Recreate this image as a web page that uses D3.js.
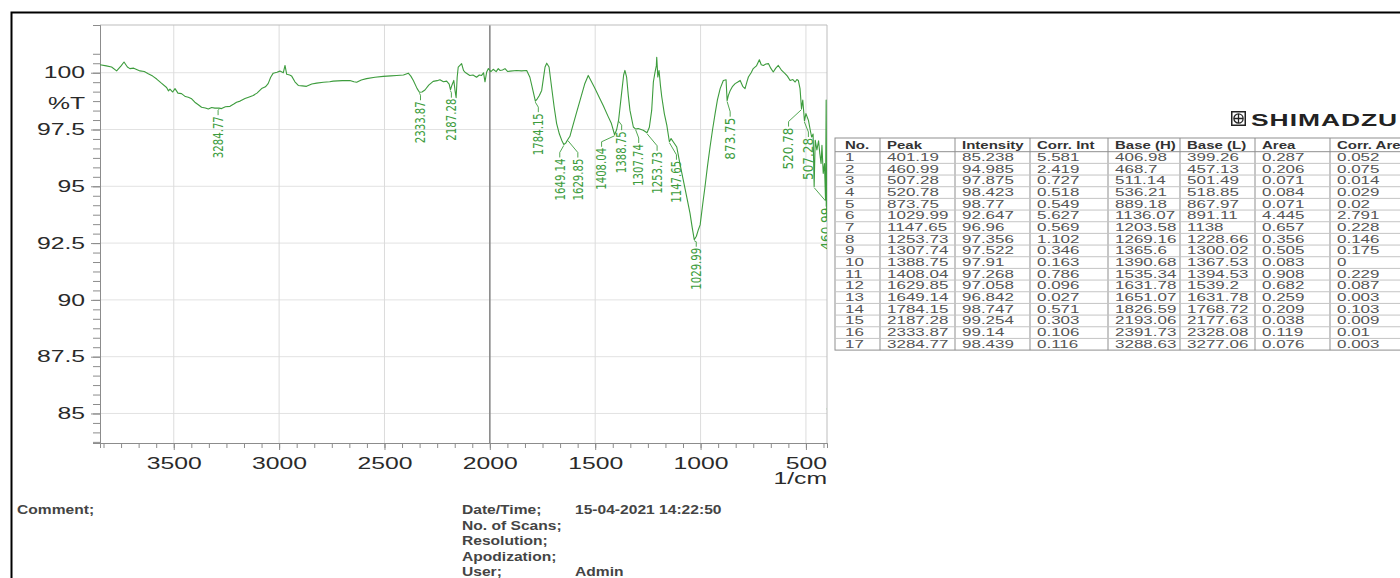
<!DOCTYPE html>
<html>
<head>
<meta charset="utf-8">
<script src="https://cdn.jsdelivr.net/npm/d3@7"></script>
<style>
body { margin: 0; background: #fff; }
svg { display: block; font-family: "Liberation Sans", Arial, sans-serif; }
</style>
</head>
<body>
<div id="chart"></div>
<script>
//Spectrum: [wavenumber 1/cm, %T]
const spectrum = [
  [3850,100.35],[3820,100.3],[3795,100.25],[3771,100.08],[3750,100.3],[3736,100.47],[3720,100.25],[3708,100.18],
  [3690,100.2],[3660,100.08],[3640,100.05],[3621,99.95],[3600,99.85],[3581,99.72],[3560,99.55],[3534,99.35],
  [3525,99.2],[3518,99.28],[3505,99.15],[3494,99.3],[3480,99.1],[3463,99.08],[3445,98.95],[3431,98.92],
  [3415,98.85],[3400,98.7],[3385,98.6],[3368,98.48],[3350,98.45],[3336,98.4],[3320,98.47],[3305,98.44],
  [3285,98.44],[3273,98.42],[3255,98.5],[3233,98.52],[3215,98.62],[3202,98.7],[3185,98.75],[3162,98.86],
  [3145,98.92],[3123,99.0],[3105,99.1],[3083,99.3],[3065,99.38],[3052,99.52],[3040,99.8],[3028,99.98],
  [3010,100.02],[2996,100.07],[2980,100.0],[2972,100.32],[2964,99.93],[2950,99.9],[2941,99.86],[2925,99.6],
  [2909,99.44],[2890,99.42],[2870,99.4],[2845,99.5],[2822,99.54],[2790,99.58],[2760,99.6],[2743,99.63],
  [2700,99.65],[2664,99.66],[2645,99.6],[2632,99.58],[2610,99.68],[2585,99.74],[2545,99.8],[2506,99.84],
  [2470,99.86],[2442,99.88],[2410,99.9],[2387,99.98],[2375,99.85],[2363,99.66],[2345,99.3],[2334,99.14],
  [2322,99.15],[2308,99.24],[2290,99.45],[2269,99.62],[2250,99.65],[2237,99.69],[2220,99.6],[2205,99.63],
  [2193,99.5],[2187,99.25],[2180,99.45],[2171,99.66],[2165,99.2],[2160,98.9],[2155,99.8],[2150,100.25],
  [2134,100.4],[2125,100.1],[2118,100.02],[2095,99.88],[2080,99.9],[2063,99.8],[2050,99.9],[2039,99.88],
  [2030,100.0],[2023,99.6],[2015,100.03],[2007,100.18],[1995,100.05],[1984,100.15],[1970,100.05],[1960,100.18],
  [1952,100.1],[1940,100.12],[1928,100.18],[1915,100.05],[1904,100.07],[1873,100.1],[1850,100.08],[1825,100.1],
  [1810,99.8],[1795,99.2],[1784,98.75],[1775,98.85],[1765,99.0],[1754,99.22],[1746,99.74],[1738,100.25],
  [1730,100.42],[1719,100.25],[1707,99.37],[1695,98.5],[1683,97.76],[1670,97.3],[1659,97.03],[1649,96.84],
  [1640,96.9],[1630,97.06],[1620,97.2],[1612,97.47],[1590,98.2],[1572,98.78],[1550,99.5],[1533,99.88],
  [1520,99.65],[1501,99.3],[1480,98.9],[1462,98.56],[1440,98.1],[1423,97.76],[1408,97.27],[1398,97.5],
  [1389,97.91],[1375,99.08],[1365,99.9],[1359,100.1],[1351,99.81],[1343,99.0],[1335,98.34],[1319,97.61],
  [1308,97.52],[1296,97.54],[1272,97.47],[1254,97.36],[1243,97.6],[1232,98.34],[1224,99.59],[1216,100.03],
  [1210,100.3],[1208,100.68],[1205,100.2],[1203,99.81],[1197,100.1],[1190,99.4],[1184,98.93],[1172,98.2],
  [1160,97.68],[1148,96.96],[1140,97.1],[1129,96.95],[1113,96.73],[1098,96.0],[1082,95.27],[1065,94.5],
  [1050,93.81],[1040,93.2],[1030,92.65],[1020,92.8],[1010,93.1],[1002,93.3],[990,94.2],[979,94.98],
  [967,95.9],[955,96.73],[943,97.5],[931,98.2],[920,98.8],[907,99.3],[892,99.66],[879,99.69],
  [874,98.77],[868,99.0],[859,99.22],[848,99.4],[836,99.52],[825,99.58],[812,99.66],[800,99.4],
  [789,99.3],[780,99.6],[773,99.81],[760,100.0],[750,100.18],[735,100.3],[721,100.57],[712,100.35],
  [702,100.32],[690,100.38],[678,100.4],[667,100.2],[655,100.03],[643,100.2],[631,100.32],[615,100.1],
  [599,99.96],[588,99.85],[575,99.66],[562,99.7],[551,99.59],[543,99.7],[536,99.66],[528,99.3],
  [521,98.42],[515,98.8],[507,97.88],[500,98.2],[488,97.9],[480,97.5],[473,97.17],[466,97.3],
  [461,94.99],[456,97.03],[448,96.6],[440,97.0],[434,96.44],[428,96.0],[424,96.8],[418,95.57],
  [412,96.0],[407,94.4],[404,98.8],[402,94.5],[401,93.6]
];

const xTicks = [3500, 3000, 2500, 2000, 1500, 1000, 500];
const yTicks = [85, 87.5, 90, 92.5, 95, 97.5, 100];

//Peak table
const tableHeader = ["No.", "Peak", "Intensity", "Corr. Int", "Base (H)", "Base (L)", "Area", "Corr. Area"];
const peakNo = [1, 2, 3, 4, 5, 6, 7, 8, 9, 10, 11, 12, 13, 14, 15, 16, 17];
const peakWn = [401.19, 460.99, 507.28, 520.78, 873.75, 1029.99, 1147.65, 1253.73, 1307.74, 1388.75, 1408.04, 1629.85, 1649.14, 1784.15, 2187.28, 2333.87, 3284.77];
const intensity = [85.238, 94.985, 97.875, 98.423, 98.77, 92.647, 96.96, 97.356, 97.522, 97.91, 97.268, 97.058, 96.842, 98.747, 99.254, 99.14, 98.439];
const corrInt = [5.581, 2.419, 0.727, 0.518, 0.549, 5.627, 0.569, 1.102, 0.346, 0.163, 0.786, 0.096, 0.027, 0.571, 0.303, 0.106, 0.116];
const baseH = [406.98, 468.7, 511.14, 536.21, 889.18, 1136.07, 1203.58, 1269.16, 1365.6, 1390.68, 1535.34, 1631.78, 1651.07, 1826.59, 2193.06, 2391.73, 3288.63];
const baseL = [399.26, 457.13, 501.49, 518.85, 867.97, 891.11, 1138, 1228.66, 1300.02, 1367.53, 1394.53, 1539.2, 1631.78, 1768.72, 2177.63, 2328.08, 3277.06];
const area = [0.287, 0.206, 0.071, 0.084, 0.071, 4.445, 0.657, 0.356, 0.505, 0.083, 0.908, 0.682, 0.259, 0.209, 0.038, 0.119, 0.076];
const corrArea = [0.052, 0.075, 0.014, 0.029, 0.02, 2.791, 0.228, 0.146, 0.175, 0, 0.229, 0.087, 0.003, 0.103, 0.009, 0.01, 0.003];

//Footer info
const infoLabels = ["Date/Time;", "No. of Scans;", "Resolution;", "Apodization;", "User;"];
const infoValues = ["15-04-2021 14:22:50", "", "", "", "Admin"];

const W = 1400, H = 578;
const plot = { left: 100, top: 25, right: 827, bottom: 443 };
const green = "#3d9c3d";

const svg = d3.select("#chart").append("svg")
    .attr("width", W)
    .attr("height", H);

//Stretched text helper (the print is wide)
function stext(parent, x, y, str, sx) {
    return parent.append("text")
        .attr("transform", `translate(${x},${y}) scale(${sx},1)`)
        .text(str);
}

//Black page frame
svg.append("path")
    .attr("d", `M11.5,${H} V12.5 H${W}`)
    .attr("fill", "none")
    .attr("stroke", "#000")
    .attr("stroke-width", 2);

const x = d3.scaleLinear().domain([3850, 400]).range([plot.left, plot.right]);
const y = d3.scaleLinear().domain([83.7, 102.1]).range([plot.bottom, plot.top]);

//Minor ticks: 6 per major step
const xMinor = d3.range(0, 42).map(k => 500 + k * 500 / 6 - 500 / 6).filter(v => v >= 400 && v <= 3850);
const yMinor = d3.range(0, 45).map(k => 82.5 + k * 2.5 / 6).filter(v => v >= 83.7 && v <= 102.1);

//Grid
const grid = svg.append("g");
grid.selectAll("line.h").data(yTicks).join("line")
    .attr("x1", plot.left).attr("x2", plot.right)
    .attr("y1", d => y(d)).attr("y2", d => y(d))
    .attr("stroke", "#e2e2e2");
grid.selectAll("line.v").data(xTicks).join("line")
    .attr("y1", plot.top).attr("y2", plot.bottom)
    .attr("x1", d => x(d)).attr("x2", d => x(d))
    .attr("stroke", d => d === 2000 ? "#8a8a8a" : "#dcdcdc")
    .attr("stroke-width", d => d === 2000 ? 1.6 : 1);

//Plot frame (top/right light)
svg.append("path")
    .attr("d", `M${plot.left},${plot.top} H${plot.right} V${plot.bottom}`)
    .attr("fill", "none")
    .attr("stroke", "#bdbdbd");

//Axes
const xAxisMinor = svg.append("g")
    .attr("transform", `translate(0,${plot.bottom})`)
    .call(d3.axisBottom(x).tickValues(xMinor).tickSize(5).tickFormat(""));
const xAxis = svg.append("g")
    .attr("transform", `translate(0,${plot.bottom})`)
    .call(d3.axisBottom(x).tickValues(xTicks).tickSizeInner(7).tickSizeOuter(0).tickPadding(7).tickFormat(d3.format("d")));
const yAxisMinor = svg.append("g")
    .attr("transform", `translate(${plot.left},0)`)
    .call(d3.axisLeft(y).tickValues(yMinor).tickSize(7).tickFormat(""));
const yAxis = svg.append("g")
    .attr("transform", `translate(${plot.left},0)`)
    .call(d3.axisLeft(y).tickValues(yTicks).tickSizeInner(9).tickSizeOuter(0).tickFormat(d => String(d)));

[xAxisMinor, xAxis, yAxisMinor, yAxis].forEach(a => {
    a.select(".domain").attr("stroke", "#8c8c8c");
    a.selectAll(".tick line").attr("stroke", "#8c8c8c");
});
xAxis.selectAll("text")
    .attr("font-size", 16.5)
    .attr("fill", "#2a2a2a")
    .attr("transform", "scale(1.5,1)");
yAxis.selectAll("text")
    .attr("font-size", 16.5)
    .attr("fill", "#2a2a2a")
    .attr("x", -15 / 1.5)
    .attr("transform", "scale(1.5,1)");

//Axis units
stext(svg, 85, 109, "%T", 1.5)
    .attr("font-size", 16.5).attr("fill", "#2a2a2a").attr("text-anchor", "end");
stext(svg, 827, 484, "1/cm", 1.5)
    .attr("font-size", 16.5).attr("fill", "#2a2a2a").attr("text-anchor", "end");

//Clip for spectrum and labels
svg.append("clipPath").attr("id", "plotClip")
    .append("rect")
    .attr("x", plot.left).attr("y", plot.top)
    .attr("width", plot.right - plot.left).attr("height", plot.bottom - plot.top);

const plotG = svg.append("g").attr("clip-path", "url(#plotClip)");

const line = d3.line()
    .x(d => x(d[0]))
    .y(d => y(d[1]));

plotG.append("path")
    .datum(spectrum)
    .attr("d", line)
    .attr("fill", "none")
    .attr("stroke", green)
    .attr("stroke-width", 1.1)
    .attr("stroke-linejoin", "round");

//Peak label layout (px shift of label from its peak)
const labelShift = {
    "3284.77": [-1, 7], "2333.87": [1, 8], "2187.28": [1, 8], "1784.15": [3, 11],
    "1649.14": [-4, 13], "1629.85": [10, 18], "1408.04": [-13, 12], "1388.75": [3, 10],
    "1307.74": [3, 14], "1253.73": [10, 18], "1147.65": [7, 18], "1029.99": [2, 7],
    "873.75": [3, 16], "520.78": [-13, 18], "507.28": [4, 16], "460.99": [12, 20], "401.19": [10, 10]
};

peakWn.forEach((wn, i) => {
    const px = x(wn), py = y(intensity[i]);
    const s = labelShift[String(wn)] || [0, 8];
    const lx = px + s[0], top = py + s[1];
    plotG.append("path")
        .attr("d", `M${px},${py + 1} L${lx},${top - 5} L${lx},${top}`)
        .attr("fill", "none")
        .attr("stroke", green)
        .attr("stroke-width", 0.9);
    plotG.append("text")
        .attr("transform", `translate(${lx},${top + 1}) rotate(-90)`)
        .attr("text-anchor", "end")
        .attr("dy", "0.35em")
        .attr("font-family", "'Liberation Sans Narrow','DejaVu Sans Condensed',sans-serif")
        .attr("font-size", 13.5)
        .attr("fill", green)
        .attr("textLength", 42)
        .attr("lengthAdjust", "spacingAndGlyphs")
        .text(wn.toFixed(2));
});

//Shimadzu logo
const logo = svg.append("g").attr("transform", "translate(1231,111)");
logo.append("rect").attr("x", 0.75).attr("y", 0.75).attr("width", 13.5).attr("height", 13.5)
    .attr("fill", "none").attr("stroke", "#222").attr("stroke-width", 1.5);
logo.append("circle").attr("cx", 7.5).attr("cy", 7.5).attr("r", 4.6)
    .attr("fill", "none").attr("stroke", "#222").attr("stroke-width", 1.3);
logo.append("path").attr("d", "M7.5,2.9 V12.1 M2.9,7.5 H12.1")
    .attr("stroke", "#222").attr("stroke-width", 1.3);
stext(svg, 1251, 126, "SHIMADZU", 1.65)
    .attr("font-size", 16).attr("font-weight", "bold").attr("fill", "#222")
    .attr("letter-spacing", 0.6);

//Peak table
const colX = [835, 880, 955, 1030, 1108, 1180, 1255, 1330, 1420];
const tableTop = 138, headH = 13.7, rowH = 11.67;
const columns = [peakNo, peakWn, intensity, corrInt, baseH, baseL, area, corrArea];
const table = svg.append("g");
const tableBottom = tableTop + headH + rowH * peakNo.length;

table.append("rect")
    .attr("x", colX[0]).attr("y", tableTop)
    .attr("width", colX[colX.length - 1] - colX[0]).attr("height", tableBottom - tableTop)
    .attr("fill", "none").attr("stroke", "#8f8f8f");
table.selectAll("line.col").data(colX.slice(1, -1)).join("line")
    .attr("x1", d => d).attr("x2", d => d)
    .attr("y1", tableTop).attr("y2", tableBottom)
    .attr("stroke", "#8f8f8f");
table.selectAll("line.row").data(peakNo).join("line")
    .attr("x1", colX[0]).attr("x2", colX[colX.length - 1])
    .attr("y1", (d, i) => tableTop + headH + rowH * i)
    .attr("y2", (d, i) => tableTop + headH + rowH * i)
    .attr("stroke", (d, i) => i === 0 ? "#8f8f8f" : "#c4c4c4");

tableHeader.forEach((h, c) => {
    stext(table, colX[c] + (c === 0 ? 10 : 7), tableTop + 10.5, h, 1.5)
        .attr("font-size", 10).attr("font-weight", "bold").attr("fill", "#333");
});
columns.forEach((col, c) => {
    col.forEach((v, r) => {
        stext(table, colX[c] + (c === 0 ? 10 : 7), tableTop + headH + rowH * r + 9.3, String(v), 1.7)
            .attr("font-size", 10).attr("fill", "#555");
    });
});

//Footer
stext(svg, 17, 514, "Comment;", 1.3)
    .attr("font-size", 12).attr("font-weight", "bold").attr("fill", "#444");
infoLabels.forEach((t, i) => {
    stext(svg, 462, 514 + i * 15.5, t, 1.3)
        .attr("font-size", 12).attr("font-weight", "bold").attr("fill", "#444");
    if (infoValues[i]) {
        stext(svg, 575, 514 + i * 15.5, infoValues[i], 1.3)
            .attr("font-size", 12).attr("font-weight", "bold").attr("fill", "#444");
    }
});
</script>
</body>
</html>
